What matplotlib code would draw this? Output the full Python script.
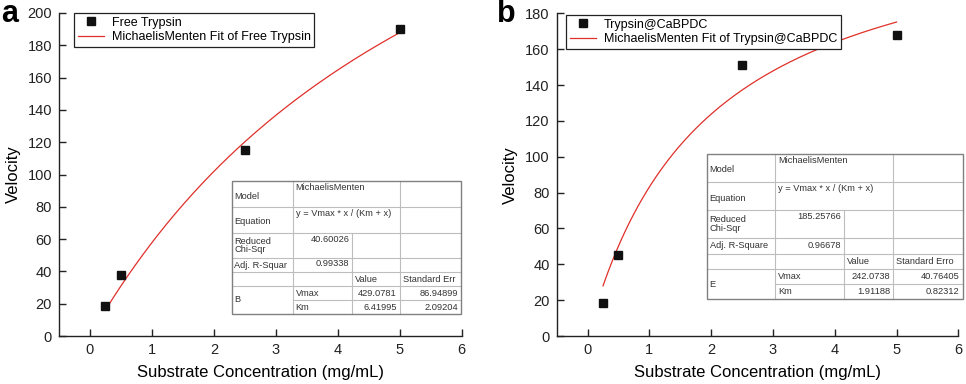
import numpy as np
import matplotlib

matplotlib.use("Agg")
import matplotlib.pyplot as plt
from matplotlib.lines import Line2D
from matplotlib.patches import Rectangle

plt.rcParams["font.family"] = ["Liberation Sans", "DejaVu Sans"]

# data
conc = [0.25, 0.5, 2.5, 5.0]
vel_free = [18.6, 38.0, 115.4, 189.8]
vel_immob = [18.5, 45.0, 151.3, 167.7]

# fitted Michaelis-Menten parameters (from the inset tables)
vmax_free, km_free = 429.0781, 6.41995
vmax_immob, km_immob = 242.0738, 1.91188

label_free = "Free Trypsin"
label_immob = "Trypsin@CaBPDC"

table_free = {
    "model": "MichaelisMenten",
    "equation": "y = Vmax * x / (Km + x)",
    "chi": "40.60026",
    "r2_label": "Adj. R-Squar",
    "r2": "0.99338",
    "err_label": "Standard Err",
    "group": "B",
    "vmax": ("429.0781", "86.94899"),
    "km": ("6.41995", "2.09204"),
}
table_immob = {
    "model": "MichaelisMenten",
    "equation": "y = Vmax * x / (Km + x)",
    "chi": "185.25766",
    "r2_label": "Adj. R-Square",
    "r2": "0.96678",
    "err_label": "Standard Erro",
    "group": "E",
    "vmax": ("242.0738", "40.76405"),
    "km": ("1.91188", "0.82312"),
}

W, H = 966, 384
RED = "#e0302a"
TXT = "#333333"


def px_rect(x0, y0, x1, y1):
    return [x0 / W, 1 - y1 / H, (x1 - x0) / W, (y1 - y0) / H]


def mm(x, vmax, km):
    return vmax * x / (km + x)


def style_axes(ax, ymax):
    for s in ("top", "right"):
        ax.spines[s].set_visible(False)
    for s in ("left", "bottom"):
        ax.spines[s].set_linewidth(1.0)
        ax.spines[s].set_color("#222222")
    ax.set_xlim(-0.5, 6)
    ax.set_ylim(0, ymax)
    ax.set_xticks(range(0, 7))
    ax.set_yticks(range(0, ymax + 1, 20))
    ax.tick_params(direction="in", length=5, width=1.0, labelsize=10.5,
                   colors="#222222", pad=5)
    ax.set_xlabel("Substrate Concentration (mg/mL)", fontsize=12, labelpad=6)
    ax.set_ylabel("Velocity", fontsize=12, labelpad=5)


def draw_panel(ax, x, y, vmax, km, label, legend_xy):
    xf = np.linspace(min(x), max(x), 200)
    ax.plot(xf, mm(xf, vmax, km), color=RED, lw=0.9,
            label=f"MichaelisMenten Fit of {label}", zorder=2)
    ax.plot(x, y, "s", color="#111111", ms=5.5, label=label, zorder=3, ls="none")
    h, l = ax.get_legend_handles_labels()
    leg = ax.legend(h[::-1], l[::-1], loc="upper left",
                    bbox_to_anchor=(legend_xy[0] / W, 1 - legend_xy[1] / H),
                    bbox_transform=ax.figure.transFigure, borderaxespad=0,
                    fontsize=9, fancybox=False, framealpha=1,
                    edgecolor="#222222", handlelength=2.1, handletextpad=0.6,
                    labelspacing=0.2, borderpad=0.3)
    leg.get_frame().set_linewidth(0.9)


def draw_table(ov, cols, rows, t):
    c0, c1, c2, c3, c4 = cols
    r = rows
    ov.add_patch(Rectangle((c0, r[0]), c4 - c0, r[-1] - r[0], facecolor="white",
                           edgecolor="none", zorder=1))
    grid = dict(color="#bdbdbd", lw=0.8, zorder=2)
    # horizontal rules
    for i in range(1, len(r) - 1):
        start = c1 if i == 6 else c0
        ov.add_line(Line2D([start, c4], [r[i], r[i]], **grid))
    # vertical rules
    ov.add_line(Line2D([c1, c1], [r[0], r[-1]], **grid))
    ov.add_line(Line2D([c2, c2], [r[2], r[-1]], **grid))
    ov.add_line(Line2D([c3, c3], [r[0], r[-1]], **grid))
    # outer border
    ov.add_patch(Rectangle((c0, r[0]), c4 - c0, r[-1] - r[0], facecolor="none",
                           edgecolor="#808080", lw=1.0, zorder=3))
    fs = 6.7
    kw = dict(fontsize=fs, color=TXT, zorder=4)
    pad = 3
    mid = lambda i: (r[i] + r[i + 1]) / 2
    ov.text(c0 + pad, mid(0) + 2, "Model", va="center", ha="left", **kw)
    ov.text(c1 + pad, r[0] + 2, t["model"], va="top", ha="left", **kw)
    ov.text(c0 + pad, mid(1) + 2, "Equation", va="center", ha="left", **kw)
    ov.text(c1 + pad, r[1] + 2, t["equation"], va="top", ha="left", **kw)
    ov.text(c0 + pad, mid(2), "Reduced\nChi-Sqr", va="center", ha="left",
            linespacing=0.95, **kw)
    ov.text(c2 - pad, r[2] + 2, t["chi"], va="top", ha="right", **kw)
    ov.text(c0 + pad, mid(3), t["r2_label"], va="center", ha="left", **kw)
    ov.text(c2 - pad, mid(3) - 1, t["r2"], va="center", ha="right", **kw)
    ov.text(c2 + pad, mid(4), "Value", va="center", ha="left", **kw)
    ov.text(c3 + pad, mid(4), t["err_label"], va="center", ha="left", **kw)
    ov.text(c0 + pad, r[6], t["group"], va="center", ha="left", **kw)
    ov.text(c1 + pad, mid(5), "Vmax", va="center", ha="left", **kw)
    ov.text(c3 - pad, mid(5), t["vmax"][0], va="center", ha="right", **kw)
    ov.text(c4 - pad, mid(5), t["vmax"][1], va="center", ha="right", **kw)
    ov.text(c1 + pad, mid(6), "Km", va="center", ha="left", **kw)
    ov.text(c3 - pad, mid(6), t["km"][0], va="center", ha="right", **kw)
    ov.text(c4 - pad, mid(6), t["km"][1], va="center", ha="right", **kw)


fig = plt.figure(figsize=(W / 100, H / 100), dpi=100)
ax_a = fig.add_axes(px_rect(59, 13, 461.7, 336))
ax_b = fig.add_axes(px_rect(556.7, 13.3, 958.3, 336))

style_axes(ax_a, 200)
style_axes(ax_b, 180)
draw_panel(ax_a, conc, vel_free, vmax_free, km_free, label_free, (74, 13))
draw_panel(ax_b, conc, vel_immob, vmax_immob, km_immob, label_immob, (566, 15))

ov = fig.add_axes([0, 0, 1, 1], zorder=10)
ov.set_xlim(0, W)
ov.set_ylim(H, 0)
ov.axis("off")
draw_table(ov, [231.5, 292.7, 352.3, 400, 461],
           [181, 207.3, 232.7, 258, 272, 286, 300, 314.3], table_free)
draw_table(ov, [706.7, 775.3, 844.3, 893.3, 962.7],
           [154, 182, 210.3, 238, 254, 269.3, 284.3, 299.3], table_immob)

ov.text(1, 14, "a", fontsize=22, fontweight="bold", ha="left", va="center")
ov.text(497, 14, "b", fontsize=22, fontweight="bold", ha="left", va="center")

fig.savefig("out.png", dpi=100)
